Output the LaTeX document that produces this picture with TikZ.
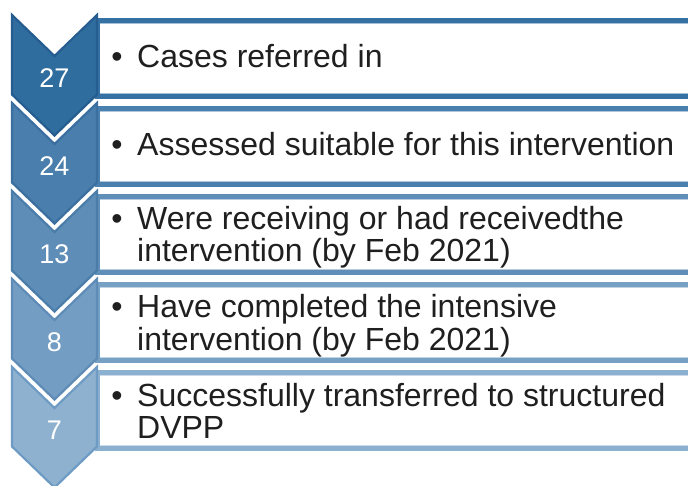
\documentclass[tikz,border=0pt]{standalone}
\usepackage{fontspec}
\setmainfont{Liberation Sans}
% chevron fills, chevron outlines and list-box rules, dark to light
\definecolor{chfA}{HTML}{306D9F}\definecolor{chlA}{HTML}{255D90}\definecolor{bxA}{HTML}{3572A3}
\definecolor{chfB}{HTML}{4A7EAC}\definecolor{chlB}{HTML}{3A6FA0}\definecolor{bxB}{HTML}{4A80AE}
\definecolor{chfC}{HTML}{5E8DB7}\definecolor{chlC}{HTML}{4A7DAA}\definecolor{bxC}{HTML}{5F8FB8}
\definecolor{chfD}{HTML}{739DC3}\definecolor{chlD}{HTML}{5E8CB7}\definecolor{bxD}{HTML}{76A0C4}
\definecolor{chfE}{HTML}{8EB1CF}\definecolor{chlE}{HTML}{6E9BC3}\definecolor{bxE}{HTML}{8CB0CF}
\begin{document}
\begin{tikzpicture}[x=1pt,y=-1pt,
  chev/.style={line width=2.2pt, line join=miter},
  boxrule/.style={line width=5pt},
  num/.style={text=white, font=\fontsize{27}{27}\selectfont, inner sep=0pt},
  item/.style={text=black!88, font=\fontsize{32}{32}\selectfont, inner sep=0pt, anchor=base west},
  bul/.style={text=black!88, font=\fontsize{32}{32}\selectfont, inner sep=0pt, anchor=base},
]
\useasboundingbox (0,0) rectangle (688,486);
\clip (0,0) rectangle (688,486);

% list boxes (open to the right) and chevrons
\foreach \k/\fc/\lc/\bc in {0/chfA/chlA/bxA,1/chfB/chlB/bxB,2/chfC/chlC/bxC,3/chfD/chlD/bxD,4/chfE/chlE/bxE}{
  \pgfmathsetmacro{\t}{15+88*\k}
  \pgfmathsetmacro{\bt}{20.5+88*\k}
  \pgfmathsetmacro{\bb}{96.5+88*\k}
  \fill[white] (97,\bt) rectangle (720,\bb);
  \draw[boxrule, draw=\bc] (720,\bt) -- (97,\bt) -- (97,\bb) -- (720,\bb);
  \draw[line width=1pt, draw=\bc!45!white] (99.5,\bt+3) -- (720,\bt+3);
  \draw[line width=1pt, draw=\bc!45!white] (99.5,\bb-3) -- (720,\bb-3);
  \draw[chev, draw=\lc, fill=\fc] (12,\t) -- (54.5,\t+41) -- (97,\t) -- (97,\t+79.5)
    -- (54.5,\t+120.5) -- (12,\t+79.5) -- cycle;
}

% step counts
\node[num] (n1) at (54.5,78)  {27};
\node[num] (n2) at (54.5,166) {24};
\node[num] (n3) at (54.5,254) {13};
\node[num] (n4) at (54.5,342) {8};
\node[num] (n5) at (54.5,430) {7};

% bullet texts
\node[bul]  (b1) at (117,68) {\textbullet};
\node[item] (t1) at (137,68) {Cases referred in};

\node[bul]  (b2) at (117,156) {\textbullet};
\node[item] (t2) at (137,156) {Assessed suitable for this intervention};

\node[bul]  (b3) at (117,230) {\textbullet};
\node[item] (t3a) at (137,230) {Were receiving or had receivedthe};
\node[item] (t3b) at (137,262) {intervention (by Feb 2021)};

\node[bul]  (b4) at (117,318) {\textbullet};
\node[item] (t4a) at (137,318) {Have completed the intensive};
\node[item] (t4b) at (137,350) {intervention (by Feb 2021)};

\node[bul]  (b5) at (117,406) {\textbullet};
\node[item] (t5a) at (137,406) {Successfully transferred to structured};
\node[item] (t5b) at (137,438) {DVPP};
\end{tikzpicture}
\end{document}
